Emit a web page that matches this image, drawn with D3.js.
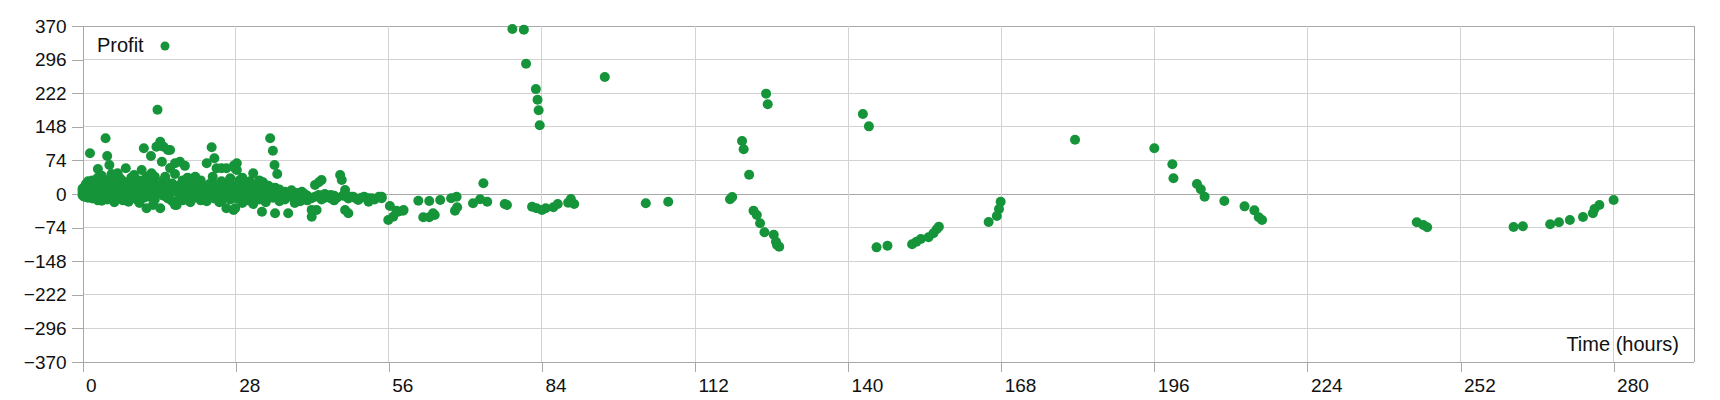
<!DOCTYPE html>
<html><head><meta charset="utf-8">
<script src="https://cdn.jsdelivr.net/npm/d3@7"></script>
<style>
body{margin:0;background:#fff;}
text{font-family:"Liberation Sans",Arial,sans-serif;}
</style>
</head><body>
<svg id="chart" width="1720" height="400"></svg>
<script>
const seriesName = "Profit";
const xTitle = "Time (hours)";
const xTickValues = [0, 28, 56, 84, 112, 140, 168, 196, 224, 252, 280];
const yTickValues = [-370, -296, -222, -148, -74, 0, 74, 148, 222, 296, 370];
const xDomain = [0, 294.7];
const yDomain = [-370, 370];

// [hours, profit] — dense early trades (0–28 h)
const earlyTrades = [
[0.0,2],[0.0,-3],[0.0,8],[0.0,12],[0.1,5],[0.3,5],[0.3,-6],[0.3,15],[0.6,10],[0.6,0],[0.6,22],[0.6,-4],
[1.0,18],[1.0,3],[1.0,-8],[1.0,28],[1.35,89.6],[1.4,6],[1.4,25],[1.4,-2],[1.8,14],[1.8,-10],[1.8,30],
[2.2,0],[2.2,20],[2.2,8],[2.2,-5],[2.8,55],[2.8,36],[2.8,12],[2.8,-14],[3.2,24],[3.2,4],[3.2,-9],
[3.5,-15],[3.5,18],[3.5,40],[4.0,10],[4.0,28],[4.0,-4],[4.2,122.6],[4.5,83.7],[4.5,22],[4.5,-12],
[4.9,63.9],[4.9,6],[4.9,32],[5.3,-6],[5.3,16],[5.3,44],[5.8,26],[5.8,2],[5.8,-18],[6.4,45.6],[6.4,12],[6.4,-8],
[6.9,20],[6.9,-2],[6.9,34],[7.4,8],[7.4,-14],[7.4,28],[7.9,56.6],[7.9,14],[7.9,-4],[8.4,-17],[8.4,24],[8.4,4],
[8.9,36],[8.9,10],[8.9,-10],[9.4,18],[9.4,-3],[9.4,42],[9.9,6],[9.9,28],[9.9,-12],[10.4,30],[10.4,-20],[10.4,14],
[10.8,52.9],[10.8,2],[11.2,100.6],[11.2,20],[11.2,-8],[11.7,-31.5],[11.7,8],[11.7,38],[12.2,16],[12.2,-6],[12.2,26],
[12.5,83.7],[12.6,45.6],[12.6,4],[12.9,-24],[12.9,12],[13.2,38],[13.2,-12],[13.2,22],[13.5,104.2],[13.5,0],
[13.7,185.7],[14.2,115.2],[14.2,-31.5],[14.2,20],[14.5,71],[14.5,6],[14.8,104],[14.8,-4],[14.8,30],[15.1,38],[15.1,14],
[15.6,97],[15.6,-10],[15.6,24],[16.0,97],[16.0,57],[16.0,2],[16.4,23],[16.4,-16],[16.4,10],[16.9,67.6],[16.9,44],
[16.9,-24.2],[16.9,16],[17.2,-24],[17.2,4],[17.8,71],[17.8,20],[17.8,-8],[18.3,30],[18.3,6],[18.3,-14],[18.7,62],[18.7,12],
[19.2,-6],[19.2,24],[19.2,36],[19.7,10],[19.7,-18],[20.2,28],[20.2,2],[20.2,-10],[20.6,38],[20.6,14],[21.1,-4],[21.1,20],
[21.1,6],[21.6,30],[21.6,-14],[21.6,10],[22.1,16],[22.1,-6],[22.7,67.6],[22.7,4],[22.7,-16],[23.2,22],[23.2,8],
[23.6,102.8],[23.6,-2],[23.8,38],[23.8,12],[24.1,78.6],[24.1,-10],[24.5,56.6],[24.5,20],[24.5,2],[25.0,-18],[25.0,10],
[25.4,56.6],[25.4,-16],[25.4,28],[25.9,6],[25.9,-8],[26.3,56.6],[26.3,-31.5],[26.3,14],[26.8,0],[26.8,22],[27.0,34.5],
[27.0,-12],[27.6,-35],[27.6,8],[27.7,63],[27.9,56],[27.9,-31.5],[27.9,18]
];

// [hours, profit] — trades between 28 h and 56 h
const midTrades = [
[28.2,67.6],[28.2,53],[28.2,4],[28.2,-10],[28.7,20],[28.7,-6],[28.7,30],[29.2,12],[29.2,-20],[29.2,36],[29.6,0],[29.6,24],
[30.1,5],[30.1,-14],[30.1,16],[30.6,28],[30.6,-8],[31.2,45.6],[31.2,10],[31.2,-22],[31.3,-9.5],[31.8,20],[31.8,0],
[32.3,-12],[32.3,14],[32.3,30],[32.8,-39],[32.8,4],[33.0,25.7],[33.0,-6],[33.5,12],[33.5,-18],[34.0,2],[34.0,18],
[34.3,122.6],[34.8,95.4],[34.8,-8],[35.1,63.9],[35.1,6],[35.2,-42.5],[35.2,14],[35.6,44],[35.6,-4],[36.0,10],[36.0,-16],
[36.4,-9.5],[36.4,2],[37.0,5],[37.0,-12],[37.6,-42.5],[37.6,0],[38.2,-6],[38.2,8],[38.8,-6],[38.8,-20],[39.3,2],[39.3,-10],
[39.8,-2],[39.8,-16],[40.1,5],[40.6,-8],[40.6,0],[41.1,-14],[41.1,-4],[41.9,-50],[41.9,-35],[41.9,-9.5],[42.5,19.8],[42.5,-6],
[42.8,-35.2],[43.2,26],[43.2,-2],[43.7,30.8],[43.7,-12],[44.3,-8],[44.3,0],[44.9,-6],[45.4,-10],[45.4,-2],[46.0,-4],[46.0,-14],
[46.5,-8],[47.1,41.9],[47.4,30.8],[47.6,-4],[48.0,8.8],[48.0,-35.2],[48.6,-42.5],[48.6,-10],[49.1,-6],[49.5,-6],[50.0,-10],
[50.4,-13],[51.0,-8],[51.5,-6],[52.3,-9.5],[52.3,-17],[52.9,-9.5],[53.4,-12],[54.2,-6],[54.7,-5.9],[54.7,-9.5]
];

// [hours, profit] — later, sparse trades
const lateTrades = [
[55.9,-57.3],[56.2,-26.4],[56.8,-50],[57.4,-36.8],[57.7,-39],[58.6,-36.8],[58.7,-35.2],
[61.4,-14.8],[62.3,-51.3],[63.4,-15.4],[63.4,-51.3],[64.1,-42.5],[64.4,-46.3],[65.4,-13.2],
[67.4,-9.5],[68.1,-36.8],[68.4,-5.9],[68.5,-29.3],[71.4,-20.5],[72.7,-11.7],[73.3,23.5],[74.0,-17],
[77.2,-22],[77.6,-24.2],[78.6,363.4],[80.7,362],[81.1,287],[82.2,-28],[82.9,231],[83.0,-31.5],[83.2,207.7],
[83.4,184.3],[83.6,151.3],[84.0,-35],[84.7,-31.5],[86.1,-29.3],[86.9,-22],[88.8,-19],[89.3,-11],[89.9,-22],
[95.5,257.7],[103.0,-20.5],[107.1,-16.9],
[118.4,-11.7],[118.8,-6.6],[120.6,116.7],[120.9,98.4],[121.9,42.5],[122.7,-36.8],[123.3,-46.3],[123.9,-64.5],
[124.7,-84.4],[125.0,221],[125.3,197.5],[126.4,-89.6],[126.8,-105],[127.0,-112.3],[127.4,-116],
[142.7,176.2],[143.8,149],[145.2,-117.5],[147.2,-113.8],[151.7,-110.8],[152.5,-105],[153.3,-99],[154.7,-95.4],
[155.6,-86.6],[156.2,-77.7],[156.6,-72],[165.7,-61.7],[167.2,-48.5],[167.6,-33],[167.9,-17],
[181.5,119.6],[196.0,100.6],[199.3,65.4],[199.5,34.5],[203.8,22],[204.5,10.3],[205.2,-5.9],[208.8,-15.4],
[212.5,-27.2],[214.3,-36],[215.1,-51.4],[215.7,-57.3],[244.0,-62.4],[245.2,-68.3],[245.9,-73.4],
[261.7,-72.7],[263.4,-71.2],[268.4,-66.8],[270.0,-62.4],[272.0,-57.3],[274.4,-50.7],[276.2,-42.5],[276.5,-33],
[277.4,-24.2],[280.0,-13.2]
];

const allTrades = earlyTrades.concat(midTrades, lateTrades);

const svg = d3.select("#chart");
const pLeft = 82.6, pRight = 1694, pTop = 26, pBottom = 362;
const x = d3.scaleLinear().domain(xDomain).range([pLeft, pRight]);
const y = d3.scaleLinear().domain(yDomain).range([pBottom, pTop]);
const gridColor = "#d3d3d3", axisColor = "#a8a8a8", dotColor = "#16943a";
const fontFam = '"Liberation Sans",Arial,sans-serif';

// horizontal gridlines
svg.append("g").selectAll("line").data(yTickValues).join("line")
  .attr("x1", pLeft).attr("x2", pRight)
  .attr("y1", d => y(d)).attr("y2", d => y(d))
  .attr("stroke", d => (d === 0 || d === 370) ? axisColor : gridColor)
  .attr("shape-rendering", "crispEdges");

// vertical gridlines
svg.append("g").selectAll("line").data(xTickValues.filter(d => d > 0)).join("line")
  .attr("x1", d => x(d)).attr("x2", d => x(d))
  .attr("y1", pTop).attr("y2", pBottom)
  .attr("stroke", gridColor)
  .attr("shape-rendering", "crispEdges");

// right border
svg.append("line").attr("x1", pRight).attr("x2", pRight).attr("y1", pTop).attr("y2", pBottom)
  .attr("stroke", axisColor).attr("shape-rendering", "crispEdges");

// y axis
const yAxis = svg.append("g").attr("transform", `translate(${pLeft},0)`)
  .call(d3.axisLeft(y).tickValues(yTickValues).tickSize(11).tickSizeOuter(0).tickPadding(5));
yAxis.selectAll("path,line").attr("stroke", axisColor).attr("shape-rendering", "crispEdges");
yAxis.selectAll("text").attr("font-size", 19).attr("fill", "#111").attr("font-family", fontFam);

// x axis
const xAxis = svg.append("g").attr("transform", `translate(0,${pBottom})`)
  .call(d3.axisBottom(x).tickValues(xTickValues).tickSize(10).tickSizeOuter(0).tickPadding(7));
xAxis.select("path").attr("d", `M${pLeft},0.5H${pRight}`);
xAxis.selectAll("path,line").attr("stroke", axisColor).attr("shape-rendering", "crispEdges");
xAxis.selectAll("text").attr("font-size", 19).attr("fill", "#111")
  .attr("text-anchor", "start").attr("dx", 3).attr("font-family", fontFam);

// points
svg.append("g").selectAll("circle").data(allTrades).join("circle")
  .attr("cx", d => x(d[0])).attr("cy", d => y(d[1])).attr("r", 5)
  .attr("fill", dotColor);

// legend
svg.append("text").attr("x", 97).attr("y", 51.5).attr("font-size", 20).attr("fill", "#111")
  .attr("font-family", fontFam).text(seriesName);
svg.append("circle").attr("cx", 165).attr("cy", 46).attr("r", 4.5).attr("fill", dotColor);

// x title
svg.append("text").attr("x", 1679).attr("y", 350.5).attr("text-anchor", "end")
  .attr("font-size", 20).attr("fill", "#111").attr("font-family", fontFam).text(xTitle);
</script>
</body></html>
